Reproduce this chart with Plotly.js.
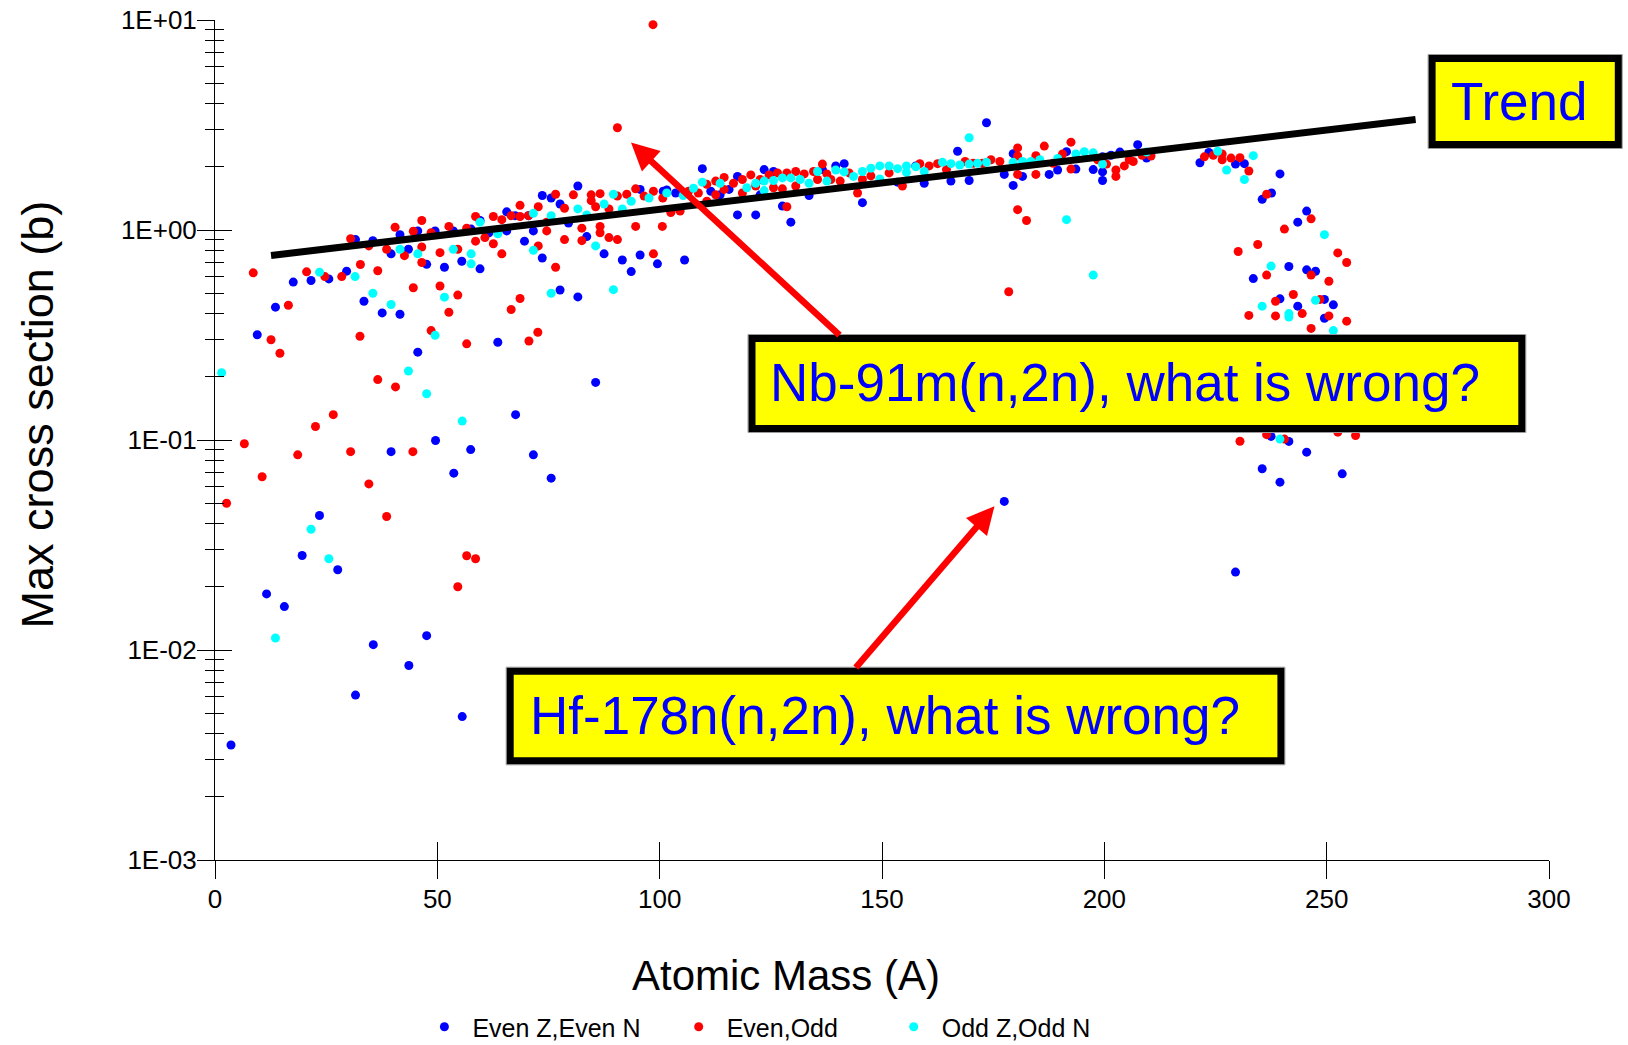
<!DOCTYPE html>
<html>
<head>
<meta charset="utf-8">
<script src="https://cdn.plot.ly/plotly-3.0.1.min.js"></script>
<style>
html,body{margin:0;padding:0;background:#ffffff;}
#chart{width:1628px;height:1045px;}
</style>
</head>
<body>
<div id="chart"></div>
<script>
// ---------------- DATA ----------------
const evenEvenA = [3.6,9.5,11.6,13.6,15.6,17.6,19.6,21.6,23.5,25.6,
27.6,29.6,31.6,31.6,33.5,35.5,35.6,37.6,39.6,39.6,
41.6,41.6,43.5,43.6,45.6,45.6,47.6,47.6,49.5,49.6,
51.6,53.6,53.7,55.5,55.6,57.6,57.5,59.6,59.6,61.6,
63.6,65.6,65.6,67.5,67.6,69.6,70.5,71.6,71.6,73.6,
73.6,75.6,75.6,77.6,77.6,79.5,81.6,81.6,83.6,85.6,
87.5,91.6,93.6,95.6,95.6,99.5,100.8,101.6,103.6,105.6,
109.6,111.5,113.6,115.6,117.5,117.5,121.6,122.6,123.5,125.6,
127.6,129.5,133.6,136.6,139.6,141.5,145.6,153.5,157.6,159.5,
165.5,167,169.6,173.5,177.5,177.5,179.5,179.5,181.6,187.6,
189.5,191.5,193.6,197.5,199.6,199.6,199.6,201.5,203.5,207.5,
209.5,221.5,223.5,229.5,229.5,231.5,233.5,235.5,235.5,237.6,
237.5,239.5,239.5,239.5,241.5,241.5,243.5,243.5,245.5,245.5,
245.5,247.5,249.5,249.5,251.5,253.5];
const evenEvenSigma = [0.00353,0.317,0.0185,0.429,0.0161,0.565,0.0282,0.575,0.0437,0.585,
0.0241,0.637,0.90,0.0061,0.458,0.89,0.0106,0.403,0.77,0.088,
0.95,0.397,0.81,0.00844,0.99,0.262,0.686,0.0117,0.99,0.0995,
0.665,0.99,0.0695,0.71,0.00482,1.01,0.090,0.653,1.11,0.97,
0.292,1.22,0.99,1.17,0.132,0.885,1.17,0.99,0.085,1.46,
0.736,1.42,0.0658,1.33,0.518,1.08,1.62,0.48,0.93,0.188,
0.77,0.72,0.634,0.76,1.56,0.69,1.53,1.55,1.50,0.72,
1.96,1.53,1.47,1.56,1.80,1.18,1.18,1.47,1.94,1.90,
1.30,1.09,1.46,1.94,2.02,2.07,1.35,1.69,2.02,1.67,
1.71,2.37,1.72,3.24,1.84,0.051,1.63,2.31,1.80,1.84,
1.93,2.36,1.95,1.94,2.23,1.89,1.72,2.27,2.35,2.55,
2.2,2.09,2.34,2.06,0.0235,2.07,0.587,1.40,0.073,1.50,
0.104,1.85,0.47,0.063,0.67,0.0985,1.09,0.434,1.23,0.646,
0.0875,0.636,0.467,0.38,0.44,0.069];

const evenOddA = [2.6,6.6,8.6,10.6,12.6,14.6,16.5,18.6,20.6,22.6,
24.7,26.6,28.5,30.5,30.5,32.7,32.6,34.6,34.6,36.6,
36.6,38.6,38.6,40.5,40.6,42.6,44.6,44.6,44.5,46.5,
46.5,46.5,48.6,48.6,50.6,50.6,52.6,52.6,54.6,54.6,
54.6,56.6,56.6,56.6,58.6,58.6,58.6,60.7,62.6,62.6,
64.5,64.5,66.6,66.6,68.6,68.6,68.6,70.5,70.6,72.7,
72.7,72.6,74.6,74.6,76.6,76.6,78.6,78.6,80.6,82.5,
82.5,84.6,84.6,85.6,86.6,86.6,86.6,88.6,88.6,90.5,
90.5,90.5,92.6,94.6,94.6,96.5,98.5,98.6,98.6,100.6,
100.7,102.5,102.6,104.6,106.5,108.7,110.6,110.6,112.6,112.6,
114.5,114.5,116.6,118.6,118.6,120.5,121.6,122.6,124.6,125.6,
126.5,127.6,128.6,128.6,130.6,130.6,132.5,134.6,135.5,136.6,
137.6,138.5,140.6,142.6,144.5,145.6,147.5,151.6,154.6,158.5,
160.6,162.5,164.5,168.7,170.5,172.6,174.5,176.5,178.5,180.5,
180.5,180.5,180.5,182.5,184.6,184.6,186.5,188.5,190.6,192.5,
192.5,198.5,200.5,202.6,202.6,204.5,205.6,206.5,208.5,210.5,
222.5,224.5,226.5,226.5,228.5,230.1,230.5,230.5,232.5,232.5,
234.5,236.5,236.5,236.5,238.5,238.5,240.5,240.5,242.5,244.5,
246.5,246.5,246.5,248.5,250.5,250.5,252.5,252.5,254.5,254.5,
256.5];
const evenOddSigma = [0.050,0.096,0.625,0.0668,0.30,0.259,0.438,0.085,0.632,0.116,
0.60,0.132,0.60,0.908,0.088,0.685,0.312,0.84,0.0618,0.64,
0.194,0.81,0.0432,1.03,0.179,0.755,0.986,0.531,0.088,1.11,
0.83,0.70,0.97,0.332,0.78,0.541,1.04,0.406,0.81,0.49,
0.020,1.02,0.287,0.0281,1.16,0.885,0.0272,0.92,1.16,0.86,
0.77,1.12,1.17,0.418,1.31,1.16,0.472,1.17,0.296,1.29,
0.84,0.326,1.09,0.99,1.48,0.665,1.27,0.90,1.47,1.02,
0.89,1.47,1.38,1.29,1.49,1.04,0.97,0.92,1.26,3.07,
0.90,1.45,1.48,1.57,1.04,1.45,9.5,1.53,0.77,1.04,
1.42,1.21,1.23,1.23,1.53,1.50,1.65,1.37,1.71,1.47,
1.78,1.56,1.67,1.74,1.50,1.83,1.62,1.74,1.83,1.59,
1.87,1.57,1.29,1.87,1.90,1.62,1.85,1.90,1.74,2.06,
1.85,1.74,1.71,1.87,1.50,1.74,1.81,1.87,1.62,2.07,
2.02,2.07,1.94,2.12,2.08,2.08,2.16,2.12,0.508,2.46,
2.25,1.84,1.25,1.11,2.26,1.84,2.51,2.08,2.30,2.62,
1.95,2.16,2.06,1.93,1.80,2.02,2.16,2.12,2.27,2.25,
2.23,2.27,2.16,2.3,2.2,0.79,2.21,0.0986,1.91,0.392,
0.853,1.48,0.61,0.106,0.458,0.39,1.01,0.101,0.493,0.40,
1.13,0.61,0.34,0.467,0.57,0.39,0.778,0.109,0.70,0.368,
0.105];

const oddOddA = [1.5,13.6,21.6,23.5,25.6,31.5,35.5,39.6,41.6,43.5,
45.6,47.6,49.5,51.6,53.6,55.6,57.6,57.6,59.6,63.6,
71.6,71.6,75.6,75.6,81.6,83.6,85.6,87.5,89.6,89.6,
91.6,93.6,97.6,101.6,105.3,107.6,109.6,113.6,119.6,121.6,
123.5,123.5,125.6,127.6,129.5,131.6,133.6,135.5,137.6,139.6,
141.5,143.6,145.6,147.5,149.5,149.5,151.6,153.5,155.5,155.5,
157.6,159.5,163.6,165.5,167.5,169.6,169.6,171.5,173.5,179.5,
181.6,183.5,185.5,189.5,191.5,193.6,195.5,197.5,197.5,199.6,
209.5,225.5,227.5,231.5,233.5,235.5,237.5,239.5,241.5,241.5,
247.5,249.5,251.5];
const oddOddSigma = [0.209,0.0114,0.0376,0.63,0.0272,0.60,0.50,0.442,0.81,0.213,
0.77,0.166,0.315,0.479,0.81,0.123,0.77,0.69,1.09,0.96,
1.20,0.80,1.17,0.50,1.26,1.18,0.84,1.33,1.48,0.52,
1.26,1.37,1.42,1.50,1.46,1.58,1.69,1.67,1.59,1.67,
1.71,1.54,1.72,1.77,1.77,1.74,1.67,1.90,1.71,1.93,
1.89,1.80,1.90,1.97,2.02,1.75,2.02,1.96,2.02,1.88,
2.0,1.90,2.1,2.07,2.04,2.75,2.06,2.08,2.10,2.10,
2.12,2.12,2.16,2.19,1.12,2.30,2.36,2.33,0.61,2.06,
2.35,2.37,1.93,1.74,2.26,0.434,0.673,0.101,0.40,0.385,
0.463,0.95,0.332];

const trendA = [12.6, 270];
const trendSigma = [0.756, 3.36];

const seriesNames = ['Even Z,Even N', 'Even,Odd', 'Odd Z,Odd N'];
const seriesColors = ['#0000FF', '#FF0000', '#00FFFF'];
const xTickVals = [0, 50, 100, 150, 200, 250, 300];
const yTickVals = [0.001, 0.01, 0.1, 1, 10];
const yTickText = ['1E-03', '1E-02', '1E-01', '1E+00', '1E+01'];
const xTitle = 'Atomic Mass (A)';
const yTitle = 'Max cross section (b)';
const boxTexts = ['Trend', 'Nb-91m(n,2n), what is wrong?', 'Hf-178n(n,2n), what is wrong?'];

// ---------------- LAYOUT HELPERS ----------------
const W = 1628, H = 1045, L = 215, R = 79, T = 20, B = 185;
const PW = W - L - R, PH = H - T - B;
function px(fx) { return (fx - L) / PW; }
function py(fy) { return (H - B - fy) / PH; }

const SANS = '"Liberation Sans", Arial, Helvetica, sans-serif';

const minorVals = [];
for (let d = -3; d < 1; d++) {
  for (let k = 2; k <= 9; k++) minorVals.push(k * Math.pow(10, d));
}

const mk = (c) => ({ color: c, size: 9, line: { width: 0 } });
const traces = [
  { type: 'scatter', mode: 'markers', x: evenEvenA, y: evenEvenSigma, name: seriesNames[0],
    marker: mk(seriesColors[0]), legend: 'legend', hoverinfo: 'skip' },
  { type: 'scatter', mode: 'markers', x: evenOddA, y: evenOddSigma, name: seriesNames[1],
    marker: mk(seriesColors[1]), legend: 'legend2', hoverinfo: 'skip' },
  { type: 'scatter', mode: 'markers', x: oddOddA, y: oddOddSigma, name: seriesNames[2],
    marker: mk(seriesColors[2]), legend: 'legend3', hoverinfo: 'skip' },
  { type: 'scatter', mode: 'lines', x: trendA, y: trendSigma, showlegend: false,
    line: { color: '#000000', width: 7 }, hoverinfo: 'skip' },
  { type: 'scatter', mode: 'markers', x: [], y: [], xaxis: 'x2', yaxis: 'y2', showlegend: false, hoverinfo: 'skip' }
];

const tickFont = { family: SANS, size: 26, color: '#000000' };
const legendFont = { family: SANS, size: 25, color: '#000000' };

function boxShapes(x0, y0, x1, y1) {
  return [
    { type: 'rect', xref: 'paper', yref: 'paper', layer: 'above',
      x0: px(x0 + 0.5), x1: px(x1 - 0.5), y0: py(y1 - 0.5), y1: py(y0 + 0.5),
      line: { color: '#9a9a9a', width: 1 }, fillcolor: 'rgba(0,0,0,0)' },
    { type: 'rect', xref: 'paper', yref: 'paper', layer: 'above',
      x0: px(x0 + 4.5), x1: px(x1 - 4.5), y0: py(y1 - 4.5), y1: py(y0 + 4.5),
      line: { color: '#000000', width: 7 }, fillcolor: '#FFFF00' }
  ];
}

const shapes = [].concat(
  boxShapes(1427.6, 54, 1622.8, 149),
  boxShapes(747.5, 334, 1526.3, 433),
  boxShapes(505.7, 666.7, 1285.4, 765.3)
);

const boxFont = { family: SANS, size: 53, color: '#0000FF' };
const annotations = [
  { xref: 'paper', yref: 'paper', x: px(1449), y: py(101.5), xanchor: 'left', yanchor: 'middle',
    text: boxTexts[0], showarrow: false, font: boxFont },
  { xref: 'paper', yref: 'paper', x: px(768), y: py(382), xanchor: 'left', yanchor: 'middle',
    text: boxTexts[1], showarrow: false, font: boxFont },
  { xref: 'paper', yref: 'paper', x: px(527.5), y: py(715), xanchor: 'left', yanchor: 'middle',
    text: boxTexts[2], showarrow: false, font: boxFont },
  // arrows
  { xref: 'x', yref: 'y', x: 93.55, y: 0.4167, ax: 210, ay: 194, text: '', showarrow: true,
    arrowhead: 2, arrowsize: 0.85, arrowwidth: 6.5, arrowcolor: '#FF0000', standoff: 0 },
  { xref: 'x', yref: 'y', x: 175.3, y: -1.315, ax: -140, ay: 163, text: '', showarrow: true,
    arrowhead: 2, arrowsize: 0.85, arrowwidth: 6.5, arrowcolor: '#FF0000', standoff: 0 },
  // axis titles
  { xref: 'paper', yref: 'paper', x: px(785.5), y: py(975), xanchor: 'center', yanchor: 'middle',
    text: xTitle, showarrow: false, font: { family: SANS, size: 42, color: '#000000' } },
  { xref: 'paper', yref: 'paper', x: px(37.4), y: py(414), xanchor: 'center', yanchor: 'middle',
    text: yTitle, showarrow: false, textangle: -90, font: { family: SANS, size: 45, color: '#000000' } }
];

const legBase = { orientation: 'h', xanchor: 'left', yanchor: 'bottom', font: legendFont,
  bgcolor: 'rgba(0,0,0,0)', borderwidth: 0, itemwidth: 46 };

const layout = {
  width: W, height: H,
  margin: { l: L, r: R, t: T, b: B, autoexpand: false },
  paper_bgcolor: '#ffffff', plot_bgcolor: '#ffffff',
  showlegend: true,
  hovermode: false,
  legend: Object.assign({}, legBase, { x: px(416.4), y: py(1050) }),
  legend2: Object.assign({}, legBase, { x: px(670.7), y: py(1050) }),
  legend3: Object.assign({}, legBase, { x: px(885.7), y: py(1050) }),
  xaxis: {
    range: [0, 300], tickmode: 'array', tickvals: xTickVals, ticks: 'outside', ticklen: 18,
    tickwidth: 1, tickcolor: '#000000', showline: true, linecolor: '#000000', linewidth: 1,
    showgrid: false, zeroline: false, tickfont: tickFont, fixedrange: true, ticklabelstandoff: -2
  },
  yaxis: {
    type: 'log', range: [-3, 1], tickmode: 'array', tickvals: yTickVals, ticktext: yTickText,
    ticks: 'outside', ticklen: 17, tickwidth: 1, tickcolor: '#000000',
    showline: true, linecolor: '#000000', linewidth: 1, showgrid: false, zeroline: false,
    tickfont: tickFont, fixedrange: true, ticklabelstandoff: -5,
    minor: { tickmode: 'array', tickvals: minorVals, ticks: 'outside', ticklen: 9, tickwidth: 1,
      tickcolor: '#000000', showgrid: false }
  },
  xaxis2: {
    overlaying: 'x', anchor: 'y', side: 'bottom', range: [0, 300], tickmode: 'array',
    tickvals: xTickVals, ticks: 'inside', ticklen: 18, tickwidth: 1, tickcolor: '#000000',
    showticklabels: false, showline: false, showgrid: false, zeroline: false, fixedrange: true
  },
  yaxis2: {
    overlaying: 'y', anchor: 'x', side: 'left', type: 'log', range: [-3, 1], tickmode: 'array',
    tickvals: yTickVals, ticks: 'inside', ticklen: 17, tickwidth: 1, tickcolor: '#000000',
    showticklabels: false, showline: false, showgrid: false, zeroline: false, fixedrange: true,
    minor: { tickmode: 'array', tickvals: minorVals, ticks: 'inside', ticklen: 9, tickwidth: 1,
      tickcolor: '#000000', showgrid: false }
  },
  shapes: shapes,
  annotations: annotations
};

Plotly.newPlot('chart', traces, layout, { staticPlot: true, displayModeBar: false });
</script>
</body>
</html>
